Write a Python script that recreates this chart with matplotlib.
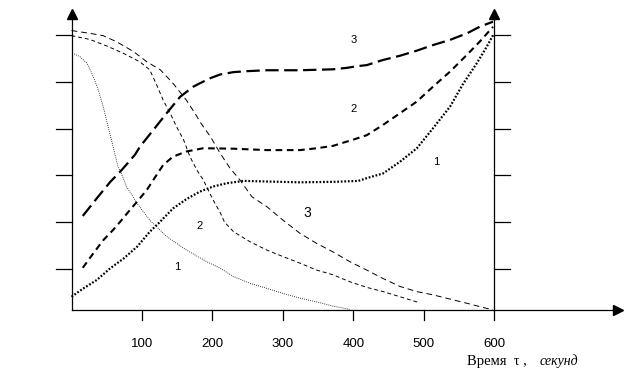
import matplotlib
matplotlib.use('Agg')
import matplotlib.pyplot as plt

# rising curves: 1 - dotted, 2 - dashed, 3 - long dash
x_up3 = [16, 36, 55, 71, 90, 97, 116, 135, 154, 173, 182, 197, 211, 230, 249, 277, 324, 371,
         390, 407, 419, 442, 466, 490, 513, 537, 561, 579, 598]
y_up3 = [2.13, 2.51, 2.86, 3.11, 3.44, 3.61, 3.97, 4.33, 4.68, 4.90, 4.97, 5.08, 5.16, 5.21,
         5.23, 5.25, 5.25, 5.27, 5.30, 5.34, 5.36, 5.47, 5.56, 5.67, 5.79, 5.90, 6.04, 6.18, 6.29]

x_up2 = [16, 31, 45, 59, 71, 83, 95, 107, 116, 130, 144, 163, 187, 230, 277, 324, 348, 371,
         390, 395, 419, 442, 466, 490, 513, 537, 561, 579, 598]
y_up2 = [1.02, 1.33, 1.61, 1.83, 2.04, 2.26, 2.47, 2.69, 2.90, 3.22, 3.40, 3.51, 3.58, 3.57,
         3.54, 3.54, 3.58, 3.63, 3.72, 3.74, 3.86, 4.08, 4.33, 4.58, 4.90, 5.22, 5.58, 5.86, 6.18]

x_up1 = [0, 17, 36, 55, 74, 93, 111, 126, 144, 163, 182, 201, 220, 244, 324, 371, 407, 419,
         442, 466, 490, 513, 537, 556, 575, 589, 598]
y_up1 = [0.40, 0.58, 0.76, 1.01, 1.22, 1.47, 1.79, 2.01, 2.29, 2.49, 2.65, 2.76, 2.83, 2.88,
         2.85, 2.86, 2.88, 2.94, 3.04, 3.29, 3.58, 4.01, 4.47, 4.97, 5.40, 5.75, 6.00]

# falling curves
x_dn1 = [4, 12, 22, 31, 38, 45, 52, 59, 66, 69, 78, 93, 111, 135, 163, 192, 211, 230, 253,
         277, 300, 324, 348, 371, 395]
y_dn1 = [5.60, 5.54, 5.40, 5.11, 4.83, 4.47, 4.04, 3.61, 3.18, 3.11, 2.76, 2.40, 2.04, 1.69,
         1.40, 1.15, 1.01, 0.83, 0.69, 0.58, 0.47, 0.37, 0.29, 0.20, 0.13]

x_dn2 = [0, 26, 50, 74, 97, 111, 121, 130, 140, 149, 159, 168, 178, 187, 201, 211, 217, 230,
         253, 277, 300, 324, 348, 371, 395, 419, 442, 466, 494]
y_dn2 = [5.99, 5.91, 5.77, 5.61, 5.43, 5.26, 4.93, 4.61, 4.33, 4.04, 3.76, 3.40, 3.11, 2.90,
         2.47, 2.20, 2.00, 1.79, 1.58, 1.40, 1.26, 1.12, 0.97, 0.87, 0.72, 0.60, 0.51, 0.40, 0.27]

x_dn3 = [0, 26, 45, 64, 88, 107, 126, 144, 163, 178, 182, 197, 211, 225, 239, 256, 277, 300,
         324, 348, 371, 395, 419, 442, 466, 490, 513, 537, 561, 584, 598]
y_dn3 = [6.10, 6.04, 5.99, 5.86, 5.65, 5.43, 5.26, 4.97, 4.61, 4.26, 4.15, 3.83, 3.47, 3.15,
         2.90, 2.54, 2.33, 2.04, 1.76, 1.54, 1.36, 1.15, 0.97, 0.79, 0.62, 0.51, 0.44, 0.35,
         0.26, 0.17, 0.12]

xticks = [100, 200, 300, 400, 500, 600]
yticks = [1, 2, 3, 4, 5, 6]

fig = plt.figure(figsize=(6.26, 3.87), dpi=100)
W, H = 626, 387
y0 = 0.116
ax = fig.add_axes([71.5 / W, (H - 310) / H, (622 - 71.5) / W, 300 / H])
ax.set_xlim(0, 781)
ax.set_ylim(y0, 6.54)
ax.axis('off')

k = dict(color='black', clip_on=False)
ax.plot(x_up3, y_up3, lw=1.6, dashes=(6, 2.5), **k)
ax.plot(x_up2, y_up2, lw=1.5, dashes=(3.2, 2.2), **k)
ax.plot(x_up1, y_up1, lw=1.6, dashes=(0.8, 0.8), **k)
ax.plot(x_dn1, y_dn1, lw=0.6, dashes=(1, 1.5), **k)
ax.plot(x_dn2, y_dn2, lw=0.7, dashes=(4, 3), **k)
ax.plot(x_dn3, y_dn3, lw=0.7, dashes=(6, 4), **k)

# axes with arrows
ax.plot([0, 770], [y0, y0], color='black', lw=0.9, clip_on=False)
ax.plot([0, 0], [y0, 6.40], color='black', lw=0.9, clip_on=False)
ax.plot([600, 600], [y0, 6.40], color='black', lw=0.9, clip_on=False)
ax.plot([0], [6.46], marker='^', ms=7, color='black', clip_on=False)
ax.plot([600], [6.46], marker='^', ms=7, color='black', clip_on=False)
ax.plot([776], [y0], marker='>', ms=7, color='black', clip_on=False)

tx = 16 / 0.705
for t in yticks:
    ax.plot([-tx, 0], [t, t], color='black', lw=0.9, clip_on=False)
    ax.plot([600, 600 + tx], [t, t], color='black', lw=0.9, clip_on=False)
for t in xticks:
    ax.plot([t, t], [y0, y0 - 10 / 46.7], color='black', lw=0.9, clip_on=False)
    ax.text(t, -0.67, str(t), ha='center', va='baseline',
            fontsize=9.5, family='Liberation Sans', clip_on=False)

ax.text(561, -1.06, 'Время  τ ,', ha='left', va='baseline', fontsize=10.5,
        family='Liberation Serif')
ax.text(664.5, -1.06, 'секунд', ha='left', va='baseline', fontsize=10,
        family='Liberation Serif', style='italic')

lab = dict(family='Liberation Sans', ha='center', va='center')
ax.text(334, 2.19, '3', fontsize=10, **lab)
ax.text(182, 1.91, '2', fontsize=8, **lab)
ax.text(150, 1.04, '1', fontsize=8, **lab)
ax.text(400, 5.90, '3', fontsize=8, **lab)
ax.text(400, 4.43, '2', fontsize=8, **lab)
ax.text(518, 3.29, '1', fontsize=8, **lab)

fig.savefig('out.png', dpi=100)
